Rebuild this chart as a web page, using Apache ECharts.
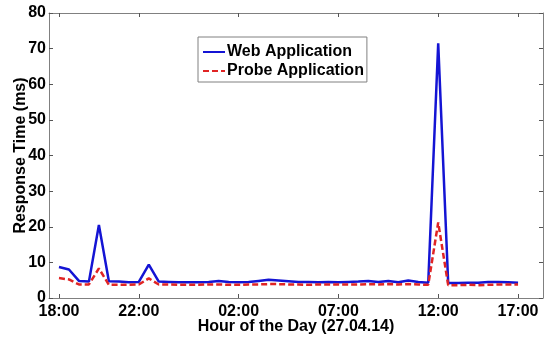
<!DOCTYPE html>
<html>
<head>
<meta charset="utf-8">
<script src="https://cdn.jsdelivr.net/npm/echarts@6/dist/echarts.min.js"></script>
<style>
html,body{margin:0;padding:0;background:#fff;}
#chart{width:545px;height:339px;}
</style>
</head>
<body>
<div id="chart"></div>
<script>
// Sample index along the x axis (one sample per slot)
var tickPositions = [0, 8, 18, 28, 38, 46];
var tickLabels = ['18:00', '22:00', '02:00', '07:00', '12:00', '17:00'];
var yTicks = [0, 10, 20, 30, 40, 50, 60, 70, 80];

var webApplication = [
  8.7, 8.0, 4.8, 4.6, 20.5, 4.7, 4.6, 4.4, 4.5, 9.4,
  4.6, 4.5, 4.4, 4.4, 4.4, 4.5, 4.8, 4.5, 4.4, 4.5,
  4.8, 5.1, 4.9, 4.7, 4.5, 4.5, 4.4, 4.5, 4.4, 4.5,
  4.6, 4.8, 4.5, 4.8, 4.4, 4.9, 4.5, 4.3, 71.5, 4.2,
  4.2, 4.3, 4.3, 4.5, 4.5, 4.4, 4.3
];
var probeApplication = [
  5.6, 5.2, 3.8, 3.8, 8.3, 3.7, 3.7, 3.7, 3.8, 5.5,
  3.8, 3.8, 3.7, 3.7, 3.7, 3.8, 3.8, 3.7, 3.7, 3.8,
  3.8, 3.9, 3.9, 3.8, 3.8, 3.7, 3.8, 3.8, 3.8, 3.8,
  3.8, 3.9, 3.8, 3.9, 3.8, 3.9, 3.8, 3.7, 21.2, 3.6,
  3.6, 3.7, 3.6, 3.7, 3.8, 3.8, 3.8
];

function pairs(arr) {
  return arr.map(function (v, i) { return [i, v]; });
}

var FONT = 'Liberation Sans';
var chart = echarts.init(document.getElementById('chart'));
var tickStyle = { show: true, inside: true, length: 4, lineStyle: { color: '#555', width: 1 } };
var lineAxis = { show: true, onZero: false, lineStyle: { color: '#808080', width: 1 } };

chart.setOption({
  animation: false,
  backgroundColor: '#ffffff',
  textStyle: { fontFamily: FONT },
  grid: { left: 49, right: 2, top: 13, bottom: 41, containLabel: false, outerBoundsMode: 'none' },
  legend: {
    orient: 'vertical',
    left: 198,
    top: 37,
    padding: [6, 3, 2, 4],
    itemGap: 1,
    itemWidth: 22,
    itemHeight: 14,
    borderColor: '#808080',
    borderWidth: 1,
    backgroundColor: '#fff',
    itemStyle: { opacity: 0 },
    textStyle: { fontFamily: FONT, fontWeight: 'bold', fontSize: 16, color: '#000', lineHeight: 18, padding: [0, 0, 0, -3] },
    data: ['Web Application', 'Probe Application']
  },
  xAxis: [
    {
      type: 'value',
      min: -1,
      max: 48.5,
      position: 'bottom',
      name: 'Hour of the Day (27.04.14)',
      nameLocation: 'middle',
      nameGap: 21,
      nameMoveOverlap: false,
      nameTextStyle: { fontFamily: FONT, fontWeight: 'bold', fontSize: 16, color: '#000' },
      axisLine: lineAxis,
      axisTick: Object.assign({ customValues: tickPositions }, tickStyle),
      axisLabel: {
        customValues: tickPositions,
        margin: 6,
        fontFamily: FONT, fontWeight: 'bold', fontSize: 16, color: '#000',
        formatter: function (v) {
          var i = tickPositions.indexOf(v);
          return i >= 0 ? tickLabels[i] : '';
        }
      },
      splitLine: { show: false }
    },
    {
      type: 'value',
      min: -1,
      max: 48.5,
      position: 'top',
      axisLine: lineAxis,
      axisTick: Object.assign({ customValues: tickPositions }, tickStyle),
      axisLabel: { show: false },
      splitLine: { show: false }
    }
  ],
  yAxis: [
    {
      type: 'value',
      min: 0,
      max: 80,
      interval: 10,
      position: 'left',
      name: 'Response Time (ms)',
      nameLocation: 'middle',
      nameGap: 20,
      nameMoveOverlap: false,
      nameTextStyle: { fontFamily: FONT, fontWeight: 'bold', fontSize: 16, color: '#000' },
      axisLine: lineAxis,
      axisTick: tickStyle,
      axisLabel: {
        margin: 3,
        fontFamily: FONT, fontWeight: 'bold', fontSize: 16, color: '#000',
        formatter: function (v) { return yTicks.indexOf(v) >= 0 ? String(v) : ''; }
      },
      splitLine: { show: false }
    },
    {
      type: 'value',
      min: 0,
      max: 80,
      interval: 10,
      position: 'right',
      axisLine: lineAxis,
      axisTick: tickStyle,
      axisLabel: { show: false },
      splitLine: { show: false }
    }
  ],
  series: [
    {
      name: 'Web Application',
      type: 'line',
      xAxisIndex: 0,
      yAxisIndex: 0,
      symbol: 'none',
      color: '#1414d4',
      lineStyle: { color: '#1414d4', width: 2.5 },
      data: pairs(webApplication),
      z: 3
    },
    {
      name: 'Probe Application',
      type: 'line',
      xAxisIndex: 0,
      yAxisIndex: 0,
      symbol: 'none',
      color: '#e02424',
      lineStyle: { color: '#e02424', width: 2.5, type: [6, 3] },
      data: pairs(probeApplication),
      z: 4
    }
  ]
});
</script>
</body>
</html>
